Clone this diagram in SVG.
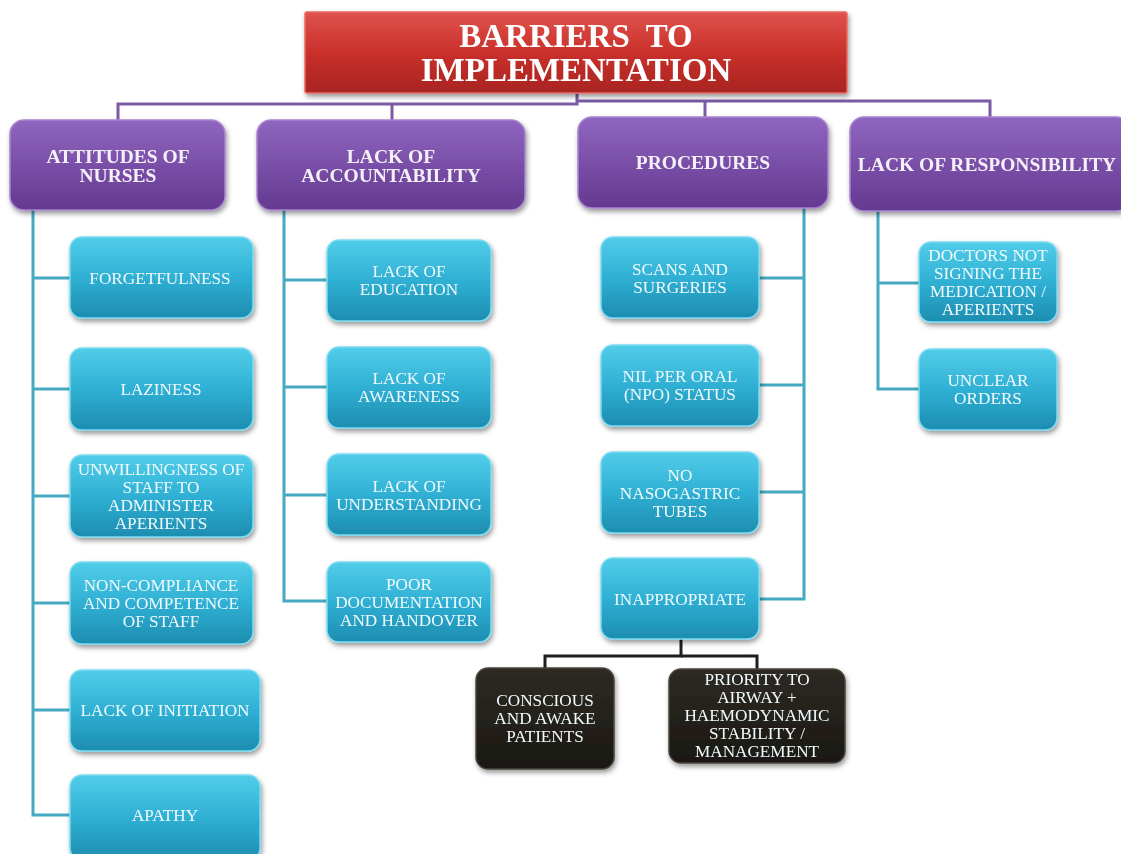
<svg xmlns="http://www.w3.org/2000/svg" width="1121" height="854" viewBox="0 0 1121 854">
<defs>
<linearGradient id="gRed" x1="0" y1="0" x2="0" y2="1">
<stop offset="0" stop-color="#e0534c"/><stop offset="0.5" stop-color="#c9302b"/><stop offset="1" stop-color="#a82520"/>
</linearGradient>
<linearGradient id="gPur" x1="0" y1="0" x2="0" y2="1">
<stop offset="0" stop-color="#8f66bf"/><stop offset="0.5" stop-color="#7a4fa8"/><stop offset="1" stop-color="#64398f"/>
</linearGradient>
<linearGradient id="gTeal" x1="0" y1="0" x2="0" y2="1">
<stop offset="0" stop-color="#52cde9"/><stop offset="0.5" stop-color="#2fb0d4"/><stop offset="1" stop-color="#1d8db0"/>
</linearGradient>
<linearGradient id="gBlk" x1="0" y1="0" x2="0" y2="1">
<stop offset="0" stop-color="#2e2a24"/><stop offset="1" stop-color="#1b1813"/>
</linearGradient>
<filter id="sh" x="-10%" y="-10%" width="125%" height="130%">
<feDropShadow dx="1.5" dy="3" stdDeviation="2.5" flood-color="#000" flood-opacity="0.4"/>
</filter>
</defs>
<style>
.red{fill:url(#gRed);stroke:#e86a63;stroke-width:1.5}
.pur{fill:url(#gPur);stroke:#a884d0;stroke-width:1.5}
.teal{fill:url(#gTeal);stroke:#7adcf2;stroke-width:1.5}
.blk{fill:url(#gBlk);stroke:#4a453c;stroke-width:1.5}
.tt{font-family:"Liberation Serif","Times New Roman",serif;font-weight:bold;font-size:33px;fill:#fff;text-anchor:middle;white-space:pre}
.th{font-family:"Liberation Serif","Times New Roman",serif;font-weight:bold;font-size:19.5px;fill:#f4f0f8;text-anchor:middle}
.tx{font-family:"Liberation Serif","Times New Roman",serif;font-size:17.2px;fill:#f0fafd;text-anchor:middle}
.lp{fill:none;stroke:#7b5aa6;stroke-width:3}
.lt{fill:none;stroke:#45a9c2;stroke-width:3}
.lb{fill:none;stroke:#1e1e1e;stroke-width:3}
</style>
<rect width="1121" height="854" fill="#fff"/>
<g id="connectors">
<path class="lp" d="M577 93 V104 H118 V121"/>
<path class="lp" d="M392 104 V121"/>
<path class="lp" d="M577 101 H990 V118"/>
<path class="lp" d="M705 101 V118"/>
<path class="lt" d="M33 210 V815 H70"/>
<path class="lt" d="M33 278 H70 M33 389 H70 M33 496 H70 M33 603 H70 M33 710 H70"/>
<path class="lt" d="M284 210 V601 H327"/>
<path class="lt" d="M284 280 H327 M284 387 H327 M284 495 H327"/>
<path class="lt" d="M804 208 V599 H759"/>
<path class="lt" d="M804 278 H759 M804 385 H759 M804 492 H759"/>
<path class="lt" d="M878 211 V389 H919"/>
<path class="lt" d="M878 283 H919"/>
<path class="lb" d="M681 639 V656 H545 V668"/>
<path class="lb" d="M681 656 H757 V669"/>
</g>
<g id="title" filter="url(#sh)">
<rect class="red" x="305" y="12" width="542" height="81" rx="2"/>
<text class="tt" x="576" y="47">BARRIERS  TO</text>
<text class="tt" x="576" y="81">IMPLEMENTATION</text>
</g>
<g id="h1" filter="url(#sh)">
<rect class="pur" x="10" y="120" width="215" height="90" rx="14"/>
<text class="th" x="118" y="163">ATTITUDES OF</text>
<text class="th" x="118" y="182">NURSES</text>
</g>
<g id="h2" filter="url(#sh)">
<rect class="pur" x="257" y="120" width="268" height="90" rx="14"/>
<text class="th" x="391" y="163">LACK OF</text>
<text class="th" x="391" y="182">ACCOUNTABILITY</text>
</g>
<g id="h3" filter="url(#sh)">
<rect class="pur" x="578" y="117" width="250" height="91" rx="14"/>
<text class="th" x="703" y="169">PROCEDURES</text>
</g>
<g id="h4" filter="url(#sh)">
<rect class="pur" x="850" y="117" width="280" height="94" rx="14"/>
<text class="th" x="987" y="171">LACK OF RESPONSIBILITY</text>
</g>
<g id="n-forget" filter="url(#sh)">
<rect class="teal" x="70" y="237" width="183" height="81" rx="12"/>
<text class="tx" x="160" y="284">FORGETFULNESS</text>
</g>
<g id="n-lazy" filter="url(#sh)">
<rect class="teal" x="70" y="348" width="183" height="82" rx="12"/>
<text class="tx" x="161" y="395">LAZINESS</text>
</g>
<g id="n-unwill" filter="url(#sh)">
<rect class="teal" x="70" y="455" width="183" height="82" rx="12"/>
<text class="tx" x="161" y="475">UNWILLINGNESS OF</text>
<text class="tx" x="161" y="493">STAFF TO</text>
<text class="tx" x="161" y="511">ADMINISTER</text>
<text class="tx" x="161" y="529">APERIENTS</text>
</g>
<g id="n-noncomp" filter="url(#sh)">
<rect class="teal" x="70" y="562" width="183" height="82" rx="12"/>
<text class="tx" x="161" y="591">NON-COMPLIANCE</text>
<text class="tx" x="161" y="609">AND COMPETENCE</text>
<text class="tx" x="161" y="627">OF STAFF</text>
</g>
<g id="n-init" filter="url(#sh)">
<rect class="teal" x="70" y="670" width="190" height="81" rx="12"/>
<text class="tx" x="165" y="716">LACK OF INITIATION</text>
</g>
<g id="n-apathy" filter="url(#sh)">
<rect class="teal" x="70" y="775" width="190" height="85" rx="12"/>
<text class="tx" x="165" y="821">APATHY</text>
</g>
<g id="n-edu" filter="url(#sh)">
<rect class="teal" x="327" y="240" width="164" height="81" rx="12"/>
<text class="tx" x="409" y="277">LACK OF</text>
<text class="tx" x="409" y="295">EDUCATION</text>
</g>
<g id="n-aware" filter="url(#sh)">
<rect class="teal" x="327" y="347" width="164" height="81" rx="12"/>
<text class="tx" x="409" y="384">LACK OF</text>
<text class="tx" x="409" y="402">AWARENESS</text>
</g>
<g id="n-under" filter="url(#sh)">
<rect class="teal" x="327" y="454" width="164" height="81" rx="12"/>
<text class="tx" x="409" y="492">LACK OF</text>
<text class="tx" x="409" y="510">UNDERSTANDING</text>
</g>
<g id="n-doc" filter="url(#sh)">
<rect class="teal" x="327" y="562" width="164" height="80" rx="12"/>
<text class="tx" x="409" y="590">POOR</text>
<text class="tx" x="409" y="608">DOCUMENTATION</text>
<text class="tx" x="409" y="626">AND HANDOVER</text>
</g>
<g id="n-scans" filter="url(#sh)">
<rect class="teal" x="601" y="237" width="158" height="81" rx="12"/>
<text class="tx" x="680" y="275">SCANS AND</text>
<text class="tx" x="680" y="293">SURGERIES</text>
</g>
<g id="n-npo" filter="url(#sh)">
<rect class="teal" x="601" y="345" width="158" height="81" rx="12"/>
<text class="tx" x="680" y="382">NIL PER ORAL</text>
<text class="tx" x="680" y="400">(NPO) STATUS</text>
</g>
<g id="n-ngt" filter="url(#sh)">
<rect class="teal" x="601" y="452" width="158" height="81" rx="12"/>
<text class="tx" x="680" y="481">NO</text>
<text class="tx" x="680" y="499">NASOGASTRIC</text>
<text class="tx" x="680" y="517">TUBES</text>
</g>
<g id="n-inapp" filter="url(#sh)">
<rect class="teal" x="601" y="558" width="158" height="81" rx="12"/>
<text class="tx" x="680" y="605">INAPPROPRIATE</text>
</g>
<g id="n-conscious" filter="url(#sh)">
<rect class="blk" x="476" y="668" width="138" height="101" rx="12"/>
<text class="tx" x="545" y="706">CONSCIOUS</text>
<text class="tx" x="545" y="724">AND AWAKE</text>
<text class="tx" x="545" y="742">PATIENTS</text>
</g>
<g id="n-priority" filter="url(#sh)">
<rect class="blk" x="669" y="669" width="176" height="94" rx="12"/>
<text class="tx" x="757" y="685">PRIORITY TO</text>
<text class="tx" x="757" y="703">AIRWAY +</text>
<text class="tx" x="757" y="721">HAEMODYNAMIC</text>
<text class="tx" x="757" y="739">STABILITY /</text>
<text class="tx" x="757" y="757">MANAGEMENT</text>
</g>
<g id="n-doctors" filter="url(#sh)">
<rect class="teal" x="919" y="242" width="138" height="80" rx="12"/>
<text class="tx" x="988" y="261">DOCTORS NOT</text>
<text class="tx" x="988" y="279">SIGNING THE</text>
<text class="tx" x="988" y="297">MEDICATION /</text>
<text class="tx" x="988" y="315">APERIENTS</text>
</g>
<g id="n-unclear" filter="url(#sh)">
<rect class="teal" x="919" y="349" width="138" height="81" rx="12"/>
<text class="tx" x="988" y="386">UNCLEAR</text>
<text class="tx" x="988" y="404">ORDERS</text>
</g>
</svg>
